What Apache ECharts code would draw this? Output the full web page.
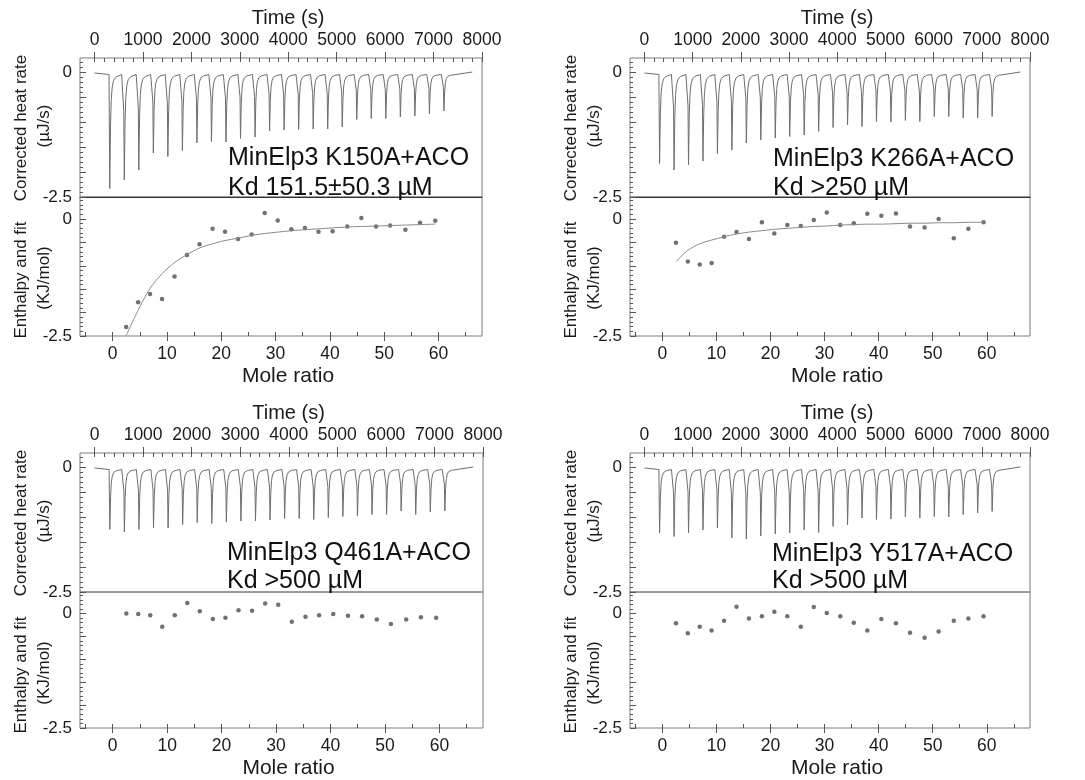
<!DOCTYPE html>
<html><head><meta charset="utf-8">
<script src="https://cdn.jsdelivr.net/npm/echarts@6/dist/echarts.min.js"></script>
<style>html,body{margin:0;padding:0;background:#fff}#c{width:1085px;height:780px}</style>
</head><body><div id="c"></div>
<script>
// ---------- data ----------
const injectionTimes = [300,600,900,1200,1500,1800,2100,2400,2700,3000,3300,3600,3900,4200,4500,4800,5100,5400,5700,6000,6300,6600,6900,7200];
const peaksK150A = [-2.33,-2.16,-1.96,-1.62,-1.69,-1.57,-1.42,-1.39,-1.40,-1.33,-1.30,-1.18,-1.16,-1.15,-1.14,-1.14,-1.10,-0.95,-0.93,-0.93,-0.90,-0.88,-0.84,-0.78];
const peaksK266A = [-1.83,-1.96,-1.86,-1.78,-1.63,-1.56,-1.42,-1.36,-1.32,-1.29,-1.26,-1.19,-1.11,-1.06,-1.09,-0.99,-1.00,-0.97,-0.99,-0.89,-0.89,-0.92,-0.92,-0.89];
const peaksQ461A = [-1.25,-1.30,-1.25,-1.22,-1.22,-1.15,-1.11,-1.13,-1.10,-1.08,-1.08,-1.06,-1.03,-1.03,-1.05,-1.01,-0.99,-0.98,-0.95,-0.95,-0.88,-0.95,-0.90,-0.88];
const peaksY517A = [-1.32,-1.39,-1.32,-1.26,-1.22,-1.42,-1.44,-1.38,-1.34,-1.32,-1.26,-1.31,-1.19,-1.16,-1.02,-1.05,-1.04,-1.00,-1.02,-0.99,-1.00,-0.95,-0.92,-0.89];
// spike profile: [seconds after injection, fraction of peak depth]
const spikeProfile = [[0,0],[4,0.35],[14,1],[30,0.45],[45,0.22],[65,0.11],[95,0.05],[150,0.02],[260,0]];
const traceBaseline = -0.05;
const traceStart = [0,-0.02];
const traceEnd = [7800,0.0];

const moleRatio = [2.5,4.7,6.9,9.1,11.4,13.7,16.0,18.4,20.7,23.1,25.6,28.0,30.4,32.9,35.4,37.9,40.5,43.2,45.8,48.5,51.1,53.9,56.6,59.4];
const enthK150A = [-2.31,-1.78,-1.60,-1.71,-1.23,-0.77,-0.54,-0.21,-0.27,-0.43,-0.33,0.13,-0.03,-0.22,-0.19,-0.27,-0.26,-0.16,0.02,-0.16,-0.14,-0.23,-0.08,-0.04];
const fitK150A  = [-2.49,-1.95,-1.48,-1.17,-0.93,-0.76,-0.62,-0.53,-0.46,-0.41,-0.35,-0.31,-0.28,-0.25,-0.23,-0.21,-0.19,-0.17,-0.16,-0.15,-0.14,-0.13,-0.12,-0.11];
const enthK266A = [-0.51,-0.91,-0.97,-0.94,-0.38,-0.28,-0.43,-0.07,-0.31,-0.13,-0.15,-0.02,0.14,-0.13,-0.09,0.11,0.07,0.12,-0.16,-0.18,0.0,-0.41,-0.21,-0.07];
const fitK266A  = [-0.91,-0.67,-0.53,-0.45,-0.38,-0.32,-0.28,-0.25,-0.22,-0.20,-0.18,-0.16,-0.15,-0.13,-0.12,-0.11,-0.11,-0.10,-0.09,-0.09,-0.08,-0.08,-0.07,-0.07];
const enthQ461A = [0.0,-0.01,-0.04,-0.29,-0.04,0.23,0.05,-0.12,-0.09,0.07,0.06,0.22,0.19,-0.18,-0.07,-0.04,-0.01,-0.05,-0.06,-0.13,-0.23,-0.13,-0.08,-0.09];
const enthY517A = [-0.21,-0.43,-0.29,-0.37,-0.16,0.15,-0.11,-0.06,0.04,-0.06,-0.29,0.14,0.01,-0.06,-0.20,-0.37,-0.12,-0.21,-0.42,-0.53,-0.39,-0.16,-0.11,-0.06];

const timeMajorTicks = [0,1000,2000,3000,4000,5000,6000,7000,8000];
const timeMinorTicks = [0,200,400,600,800,1000,1200,1400,1600,1800,2000,2200,2400,2600,2800,3000,3200,3400,3600,3800,4000,4200,4400,4600,4800,5000,5200,5400,5600,5800,6000,6200,6400,6600,6800,7000,7200,7400,7600,7800,8000];
const moleMajorTicks = [0,10,20,30,40,50,60];
const moleMinorTicks = [-5,0,5,10,15,20,25,30,35,40,45,50,55,60,65];
const yMajorTicks = [-2.5,-2,-1.5,-1,-0.5,0];
const yLabelTicks = [-2.5,0];
const heatMinorTicks = [-2.5,-2.4,-2.3,-2.2,-2.1,-2,-1.9,-1.8,-1.7,-1.6,-1.5,-1.4,-1.3,-1.2,-1.1,-1,-0.9,-0.8,-0.7,-0.6,-0.5,-0.4,-0.3,-0.2,-0.1,0,0.1,0.2];
const enthMinorTicks = [-2.5,-2.4,-2.3,-2.2,-2.1,-2,-1.9,-1.8,-1.7,-1.6,-1.5,-1.4,-1.3,-1.2,-1.1,-1,-0.9,-0.8,-0.7,-0.6,-0.5,-0.4,-0.3,-0.2,-0.1,0,0.1,0.2,0.3,0.4];
const panelTexts = [
  ['MinElp3 K150A+ACO','Kd 151.5\u00b150.3 \u00b5M'],
  ['MinElp3 K266A+ACO','Kd >250 \u00b5M'],
  ['MinElp3 Q461A+ACO','Kd >500 \u00b5M'],
  ['MinElp3 Y517A+ACO','Kd >500 \u00b5M']
];
const heatTitle = ['Corrected heat rate','(\u00b5J/s)'];
const enthTitle = ['Enthalpy and fit','(KJ/mol)'];

const panelPeaks = [peaksK150A, peaksK266A, peaksQ461A, peaksY517A];
const panelEnth = [enthK150A, enthK266A, enthQ461A, enthY517A];
const panelFit = [fitK150A, fitK266A, null, null];

// ---------- layout ----------
const layout = [
  {left:80, width:402, top:58, mid:197, bottom:336, sep:'#333', tx:228, ty1:158, ty2:188},
  {left:630, width:400, top:58, mid:197, bottom:336, sep:'#333', tx:773, ty1:159, ty2:188},
  {left:80, width:403, top:453, mid:592, bottom:731, sep:'#999', tx:227, ty1:553, ty2:581},
  {left:630, width:400, top:453, mid:592, bottom:730, sep:'#999', tx:772, ty1:554, ty2:581}
];
const FONT = 'Liberation Sans';
const TXT = '#1a1a1a';
const FRAME = '#7a7a7a';
const TICK = '#555';

function buildTrace(peaks){
  const pts = [traceStart];
  injectionTimes.forEach((t,i)=>{
    spikeProfile.forEach(([dt,f])=>{
      pts.push([t+dt, traceBaseline + f*(peaks[i]-traceBaseline)]);
    });
  });
  pts.push(traceEnd);
  return pts;
}
const fmt = v => String(v);

const grid=[], xAxis=[], yAxis=[], series=[], graphic=[];
layout.forEach((L,p)=>{
  const gT = grid.length;
  grid.push({left:L.left, width:L.width, top:L.top, height:L.mid-L.top, show:true, borderColor:FRAME, borderWidth:1, backgroundColor:'transparent'});
  const gB = grid.length;
  grid.push({left:L.left, width:L.width, top:L.mid, height:L.bottom-L.mid, show:true, borderColor:FRAME, borderWidth:1, backgroundColor:'transparent'});
  const base = (gi,min,max,pos)=>({type:'value', gridIndex:gi, min, max, position:pos, splitLine:{show:false}, axisLine:{show:false,onZero:false}, silent:true});
  // time axes
  const xTime = xAxis.length;
  xAxis.push(Object.assign(base(gT,-300,8000,'top'),{
    axisTick:{show:true, customValues:timeMajorTicks, inside:false, length:6, lineStyle:{color:TICK}},
    axisLabel:{show:true, customValues:timeMajorTicks, formatter:fmt, fontSize:17.5, color:TXT, margin:9, fontFamily:FONT},
    name:'Time (s)', nameLocation:'middle', nameGap:30,
    nameTextStyle:{fontSize:20, color:TXT, fontFamily:FONT, padding:[0,0,0,14]}
  }));
  xAxis.push(Object.assign(base(gT,-300,8000,'top'),{
    axisTick:{show:true, customValues:timeMinorTicks, inside:true, length:4, lineStyle:{color:TICK}},
    axisLabel:{show:false}
  }));
  // mole ratio axes
  const xMole = xAxis.length;
  xAxis.push(Object.assign(base(gB,-6,68,'bottom'),{
    axisTick:{show:true, customValues:moleMajorTicks, inside:false, length:5, lineStyle:{color:TICK}},
    axisLabel:{show:true, customValues:moleMajorTicks, formatter:fmt, fontSize:17.5, color:TXT, margin:9, fontFamily:FONT},
    name:'Mole ratio', nameLocation:'middle', nameGap:30,
    nameTextStyle:{fontSize:21, color:TXT, fontFamily:FONT, padding:[0,0,0,14]}
  }));
  xAxis.push(Object.assign(base(gB,-6,68,'bottom'),{
    axisTick:{show:true, customValues:moleMinorTicks, inside:true, length:4, lineStyle:{color:TICK}},
    axisLabel:{show:false}
  }));
  // separator line
  xAxis.push(Object.assign(base(gB,-6,68,'top'),{
    axisLine:{show:true,onZero:false,lineStyle:{color:L.sep,width:1}},
    axisTick:{show:false}, axisLabel:{show:false}
  }));
  // y axes
  const yHeat = yAxis.length;
  yAxis.push(Object.assign(base(gT,-2.5,0.28,'left'),{
    axisTick:{show:true, customValues:yMajorTicks, inside:true, length:6, lineStyle:{color:TICK}},
    axisLabel:{show:true, customValues:yLabelTicks, formatter:fmt, fontSize:17, color:TXT, margin:8, fontFamily:FONT}
  }));
  yAxis.push(Object.assign(base(gT,-2.5,0.28,'left'),{
    axisTick:{show:true, customValues:heatMinorTicks, inside:true, length:3, lineStyle:{color:TICK}},
    axisLabel:{show:false}
  }));
  const yEnth = yAxis.length;
  yAxis.push(Object.assign(base(gB,-2.5,0.47,'left'),{
    axisTick:{show:true, customValues:yMajorTicks, inside:true, length:6, lineStyle:{color:TICK}},
    axisLabel:{show:true, customValues:yLabelTicks, formatter:fmt, fontSize:17, color:TXT, margin:8, fontFamily:FONT}
  }));
  yAxis.push(Object.assign(base(gB,-2.5,0.47,'left'),{
    axisTick:{show:true, customValues:enthMinorTicks, inside:true, length:3, lineStyle:{color:TICK}},
    axisLabel:{show:false}
  }));

  series.push({type:'line', xAxisIndex:xTime, yAxisIndex:yHeat, data:buildTrace(panelPeaks[p]),
    showSymbol:false, symbol:'none', lineStyle:{color:'#6e6e6e', width:1}, silent:true});
  if (panelFit[p]) {
    series.push({type:'line', xAxisIndex:xMole, yAxisIndex:yEnth,
      data:moleRatio.map((m,i)=>[m,panelFit[p][i]]), smooth:0.3,
      showSymbol:false, symbol:'none', lineStyle:{color:'#8a8a8a', width:1}, silent:true});
  }
  series.push({type:'scatter', xAxisIndex:xMole, yAxisIndex:yEnth,
    data:moleRatio.map((m,i)=>[m,panelEnth[p][i]]), symbol:'circle', symbolSize:4.5,
    itemStyle:{color:'#4d4d4d'}, silent:true});

  // annotation texts
  graphic.push({type:'text', x:L.tx, y:L.ty1, z:1, style:{text:panelTexts[p][0], fontSize:25, fontFamily:FONT, fill:'#111', align:'left', verticalAlign:'middle'}});
  graphic.push({type:'text', x:L.tx, y:L.ty2, z:1, style:{text:panelTexts[p][1], fontSize:25, fontFamily:FONT, fill:'#111', align:'left', verticalAlign:'middle'}});
  // y axis titles
  const hy = (L.top+L.mid)/2 + 0.5;
  const ey = L.mid + 83;
  [[heatTitle,hy],[enthTitle,ey]].forEach(([t,cy])=>{
    graphic.push({type:'text', x:L.left-59, y:cy, rotation:Math.PI/2, style:{text:t[0], fontSize:17, fontFamily:FONT, fill:TXT, align:'center', verticalAlign:'middle'}});
    graphic.push({type:'text', x:L.left-36, y:cy-2, rotation:Math.PI/2, style:{text:t[1], fontSize:17, fontFamily:FONT, fill:TXT, align:'center', verticalAlign:'middle'}});
  });
});

const chart = echarts.init(document.getElementById('c'), null, {renderer:'canvas'});
chart.setOption({
  animation:false,
  backgroundColor:'#fff',
  textStyle:{fontFamily:FONT},
  grid, xAxis, yAxis, series, graphic
});
</script>
</body></html>
